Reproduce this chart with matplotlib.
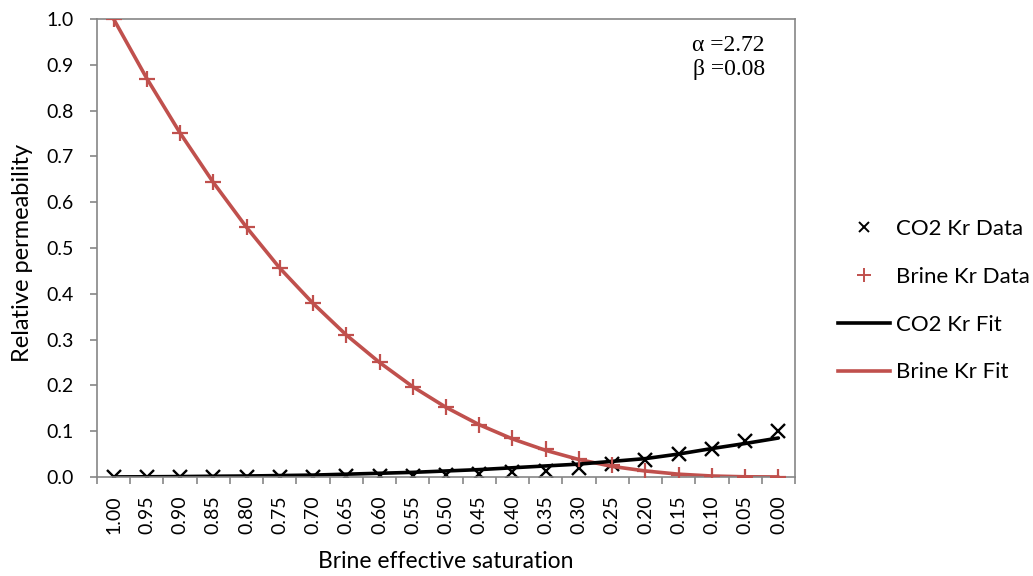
import matplotlib
matplotlib.use("Agg")
import matplotlib.pyplot as plt
from matplotlib.lines import Line2D
from matplotlib.ticker import FixedLocator, NullFormatter

plt.rcParams['font.family'] = ['Lato', 'DejaVu Sans']

# brine effective saturation categories (left to right)
saturation = ["1.00", "0.95", "0.90", "0.85", "0.80", "0.75", "0.70",
              "0.65", "0.60", "0.55", "0.50", "0.45", "0.40", "0.35",
              "0.30", "0.25", "0.20", "0.15", "0.10", "0.05", "0.00"]

co2_data = [0.0, 0.0, 0.0, 0.0, 0.0, 0.0, 0.0, 0.001, 0.002, 0.003, 0.005,
            0.007, 0.011, 0.014, 0.020, 0.028, 0.036, 0.049, 0.060, 0.079, 0.100]
brine_data = [1.0, 0.87, 0.75, 0.643, 0.545, 0.456, 0.38, 0.31, 0.25, 0.197,
              0.152, 0.114, 0.085, 0.060, 0.039, 0.026, 0.012, 0.005, 0.002,
              0.0003, 0.0]
co2_fit = [0.0, 0.0003, 0.0008, 0.0015, 0.002, 0.003, 0.004, 0.006, 0.008,
           0.010, 0.013, 0.016, 0.020, 0.024, 0.028, 0.034, 0.040, 0.050,
           0.062, 0.073, 0.085]
brine_fit = [1.0, 0.87, 0.751, 0.643, 0.545, 0.456, 0.379, 0.31, 0.25, 0.197,
             0.152, 0.114, 0.083, 0.058, 0.038, 0.023, 0.013, 0.006, 0.002,
             0.0003, 0.0]

red = "#C0504D"
grey = "#868686"

fig = plt.figure(figsize=(10.33, 5.76), dpi=100)
ax = fig.add_axes([0.0939, 0.172, 0.6757, 0.795])

x = list(range(len(saturation)))
ax.plot(x, co2_data, ls="none", marker="x", color="black", ms=10, mew=1.7, zorder=2)
ax.plot(x, brine_data, ls="none", marker="+", color=red, ms=12, mew=1.6, zorder=3)
ax.plot(x, brine_fit, color=red, lw=2.6, solid_capstyle="round", zorder=2)
ax.plot(x, co2_fit, color="black", lw=2.6, solid_capstyle="round", zorder=2)

ax.set_xlim(-0.5, len(saturation) - 0.5)
ax.set_ylim(0, 1.0)
ax.set_yticks([i / 10 for i in range(11)])
ax.set_yticklabels(["%.1f" % (i / 10) for i in range(11)], fontsize=14)
ax.set_xticks(x)
ax.set_xticklabels(saturation, rotation=90, fontsize=14)
ax.tick_params(axis="x", which="major", length=0, pad=13)
ax.xaxis.set_minor_locator(FixedLocator([i - 0.5 for i in range(len(saturation) + 1)]))
ax.xaxis.set_minor_formatter(NullFormatter())
ax.tick_params(axis="x", which="minor", length=5, width=1.2, color=grey)
ax.tick_params(axis="y", length=5, width=1.2, color=grey, pad=12)

for s in ax.spines.values():
    s.set_color(grey)
    s.set_linewidth(1.2)

ax.set_ylabel("Relative permeability", fontsize=17)
ax.yaxis.set_label_coords(-0.092, 0.49)
ax.set_xlabel("Brine effective saturation", fontsize=16.5)
ax.xaxis.set_label_coords(0.5, -0.162)

ax.text(0.957, 0.965, "\u03b1 =2.72\n\u03b2 =0.08", transform=ax.transAxes,
        ha="right", va="top", fontsize=17, family="Liberation Serif",
        linespacing=1.2)

handles = [
    Line2D([], [], ls="none", marker="x", color="black", ms=7, mew=1.4),
    Line2D([], [], ls="none", marker="+", color=red, ms=10, mew=1.4),
    Line2D([], [], color="black", lw=2.6),
    Line2D([], [], color=red, lw=2.6),
]
labels = ["CO2 Kr Data", "Brine Kr Data", "CO2 Kr Fit", "Brine Kr Fit"]
fig.legend(handles, labels, loc="center left", bbox_to_anchor=(0.811, 0.478),
           frameon=False, fontsize=16, handlelength=2.34, handletextpad=0.3,
           labelspacing=1.25, borderaxespad=0, borderpad=0)

fig.savefig("out.png", dpi=100, facecolor="white")
